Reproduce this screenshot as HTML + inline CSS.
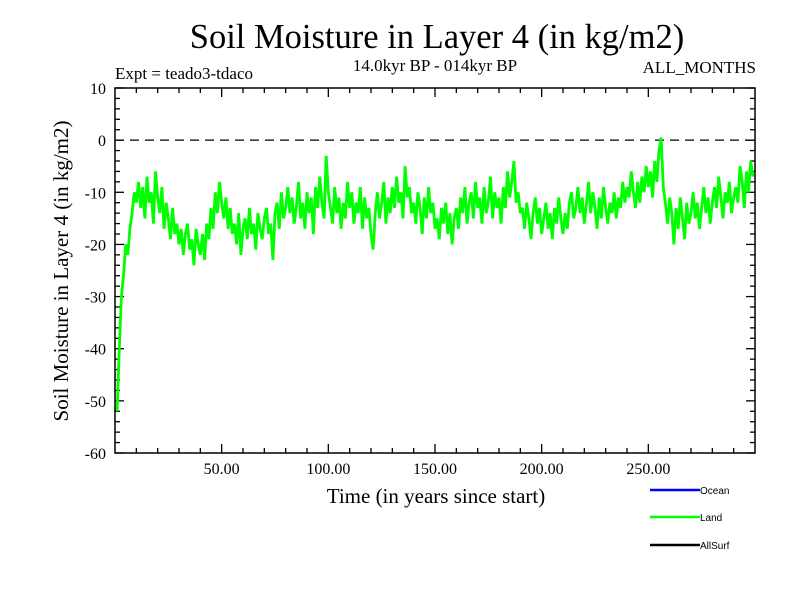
<!DOCTYPE html>
<html><head><meta charset="utf-8"><style>
body{margin:0;background:#fff;}
svg{display:block;font-family:"Liberation Serif",serif;}
</style></head><body>
<svg id="chart" width="800" height="600" viewBox="0 0 800 600">
<text x="437" y="48" font-size="34.5" text-anchor="middle">Soil Moisture in Layer 4 (in kg/m2)</text>
<text x="435" y="71" font-size="17" text-anchor="middle">14.0kyr BP - 014kyr BP</text>
<text x="115" y="79" font-size="17">Expt = teado3-tdaco</text>
<text x="756" y="73" font-size="17" text-anchor="end">ALL_MONTHS</text>
<text transform="translate(68,271) rotate(-90)" font-size="21" text-anchor="middle">Soil Moisture in Layer 4 (in kg/m2)</text>
<text x="436" y="503" font-size="21" text-anchor="middle">Time (in years since start)</text>
<g id="axes"></g>
<g id="series"></g>
<rect x="115" y="88" width="640" height="365" fill="none" stroke="#000" stroke-width="1.5"/>
<g font-family="Liberation Sans, sans-serif" font-size="10">
<g><line x1="650" y1="490" x2="700" y2="490" stroke="#0000ff" stroke-width="2.5"/><text x="700" y="494">Ocean</text></g>
<g><line x1="650" y1="517" x2="700" y2="517" stroke="#00ff00" stroke-width="2.5"/><text x="700" y="521">Land</text></g>
<g><line x1="650" y1="545" x2="700" y2="545" stroke="#000" stroke-width="2.5"/><text x="700" y="549">AllSurf</text></g>
</g>
</svg>
<script>
const yTicks=[10,0,-10,-20,-30,-40,-50,-60];
const xTicks=[50,100,150,200,250];
const xTickLabels=["50.00","100.00","150.00","200.00","250.00"];
const startYear=1;
const landValues=[-52,-40,-30,-26,-20,-22,-17,-14,-10,-12,
-8,-13,-9,-15,-7,-12,-10,-16,-6,-11,
-14,-9,-17,-12,-15,-19,-13,-18,-16,-20,
-17,-22,-18,-16,-21,-19,-24,-17,-20,-22,
-18,-23,-16,-19,-13,-17,-10,-14,-8,-12,
-15,-11,-17,-13,-18,-16,-20,-14,-22,-17,
-15,-19,-13,-18,-16,-21,-14,-17,-19,-15,
-13,-18,-16,-23,-14,-12,-17,-10,-15,-13,
-9,-14,-11,-16,-13,-8,-15,-12,-17,-10,
-14,-11,-18,-9,-13,-7,-12,-15,-3,-10,
-13,-16,-9,-14,-11,-17,-12,-15,-8,-13,
-10,-16,-12,-14,-9,-17,-11,-15,-13,-18,
-21,-14,-10,-15,-12,-8,-16,-11,-14,-9,
-13,-7,-12,-10,-15,-5,-11,-9,-14,-12,
-16,-10,-13,-18,-11,-15,-9,-14,-12,-17,
-15,-19,-13,-16,-12,-18,-14,-20,-15,-13,
-17,-11,-14,-9,-16,-12,-10,-15,-8,-13,
-11,-16,-9,-14,-12,-7,-15,-10,-13,-11,
-16,-9,-13,-6,-11,-8,-4,-12,-10,-14,
-13,-17,-12,-15,-19,-14,-11,-16,-13,-18,
-15,-12,-17,-14,-19,-13,-16,-11,-15,-18,
-14,-17,-12,-10,-15,-13,-9,-14,-11,-16,
-12,-8,-14,-10,-13,-17,-11,-15,-9,-13,
-16,-12,-14,-10,-15,-11,-13,-8,-12,-9,
-11,-6,-10,-13,-8,-12,-7,-10,-5,-9,
-6,-11,-4,-8,-2,0.5,-9,-12,-16,-11,
-14,-20,-13,-17,-11,-15,-19,-12,-16,-14,
-10,-15,-12,-17,-13,-9,-14,-11,-16,-12,
-9,-13,-7,-11,-15,-10,-12,-8,-14,-11,
-9,-12,-5,-8,-13,-6,-10,-4,-7];
const xMin=0,xMax=300,yMin=-60,yMax=10;
const L=115,R=755,T=88,B=453;
const sx=v=>L+(v-xMin)/(xMax-xMin)*(R-L);
const sy=v=>B-(v-yMin)/(yMax-yMin)*(B-T);
const NS="http://www.w3.org/2000/svg";
const axes=document.getElementById('axes');
function mk(tag,attrs,parent){const e=document.createElementNS(NS,tag);for(const k in attrs)e.setAttribute(k,attrs[k]);parent.appendChild(e);return e;}
for(let v=yMin;v<=yMax;v+=2){
 const major=(v%10===0);const len=major?9:5;
 const t1=mk('line',{x1:L,y1:sy(v),x2:L+len,y2:sy(v),stroke:'#000','stroke-width':1.3},axes);
 
 
 const t2=mk('line',{x1:R,y1:sy(v),x2:R-len,y2:sy(v),stroke:'#000','stroke-width':1.3},axes);
 
 
}
yTicks.forEach(v=>{
 const t=mk('text',{x:L-9,y:sy(v)+6,'font-size':16,'text-anchor':'end'},axes);
 t.textContent=String(v);
 
 
});
for(let v=10;v<xMax;v+=10){
 const major=(v%50===0);const len=major?9:5;
 const t1=mk('line',{x1:sx(v),y1:B,x2:sx(v),y2:B-len,stroke:'#000','stroke-width':1.3},axes);
 
 
 const t2=mk('line',{x1:sx(v),y1:T,x2:sx(v),y2:T+len,stroke:'#000','stroke-width':1.3},axes);
 
 
}
xTicks.forEach((v,i)=>{
 const t=mk('text',{x:sx(v),y:B+21,'font-size':16,'text-anchor':'middle'},axes);
 t.textContent=xTickLabels[i];
 
 
});
const zl=mk('line',{x1:L,y1:sy(0),x2:R,y2:sy(0),stroke:'#000','stroke-width':1.3,'stroke-dasharray':'9,6'},axes);


const pts=landValues.map((v,i)=>sx(startYear+i).toFixed(1)+','+sy(v).toFixed(1)).join(' ');
const pl=mk('polyline',{points:pts,fill:'none',stroke:'#00ff00','stroke-width':2.8,'stroke-linejoin':'miter'},document.getElementById('series'));


</script>
</body></html>
